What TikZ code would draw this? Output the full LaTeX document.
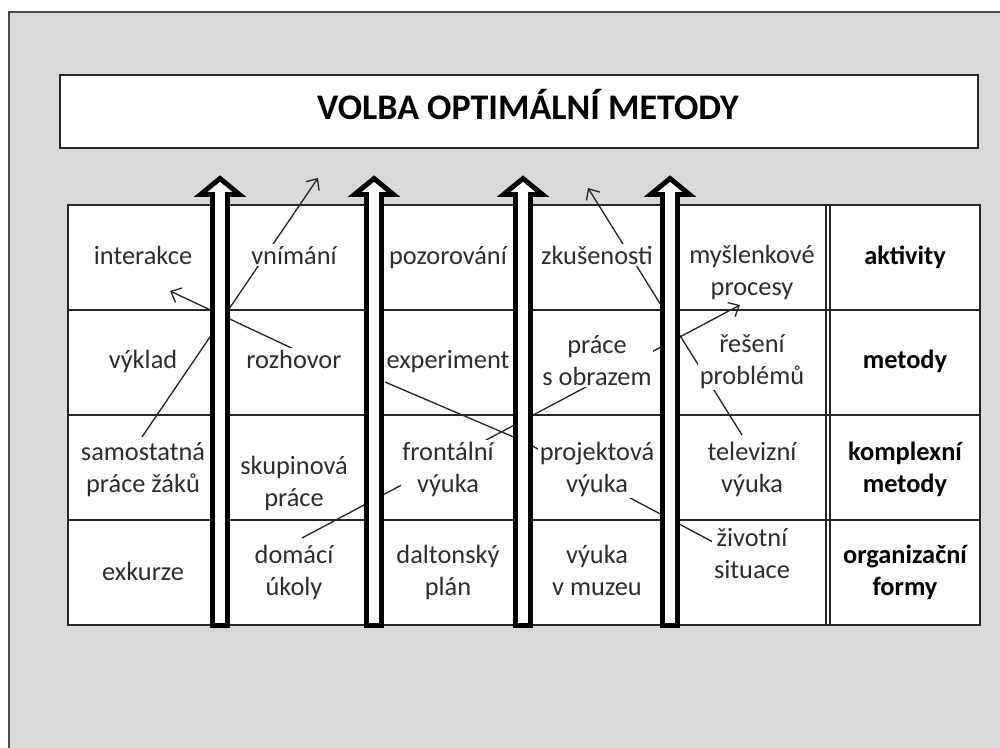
\documentclass[tikz,border=0pt]{standalone}
\usepackage{fontspec}
\setmainfont{Carlito}
\usetikzlibrary{arrows.meta}
\definecolor{bggray}{RGB}{217,217,217}
\definecolor{txtgray}{RGB}{45,45,45}
\tikzset{
  cell/.style={fill=white, inner sep=1pt, align=center, text=txtgray, anchor=base,
    font=\fontsize{15}{18}\selectfont},
  headcell/.style={cell, text=black, font=\fontsize{15}{18}\selectfont\bfseries},
  gridline/.style={draw=black!85, line width=0.75pt},
  conn/.style={draw=black!85, line width=0.75pt},
  connarrow/.style={conn, -{Straight Barb[length=5pt,width=9pt]}},
  bigarrow/.style={draw=black, fill=white, line width=2.8pt, line join=miter},
}
\begin{document}
\begin{tikzpicture}[x=0.02cm,y=-0.02cm]
\useasboundingbox (0,0) rectangle (1000,747);
\clip (0,0) rectangle (1000,747);
\fill[white] (0,0) rectangle (1000,747);
% outer frame
\draw[draw=black!70, fill=bggray, line width=0.8pt] (9,12) rectangle (1030,780);
% title
\draw[draw=black!85, fill=white, line width=0.75pt] (60,75) rectangle (978,148);
\node[font=\fontsize{20.5}{24}\selectfont\bfseries, text=black] (title) at (528,104) {VOLBA OPTIMÁLNÍ METODY};
% table background
\fill[white] (68,205) rectangle (980,625);
% connector end points
\coordinate (a1) at (300,352); \coordinate (a2) at (170,291);
\coordinate (b1) at (142,437); \coordinate (b2) at (318,178);
\coordinate (c1) at (302,538); \coordinate (c2) at (740,305);
\coordinate (d1) at (742,435); \coordinate (d2) at (588,188);
\coordinate (e1) at (385,382); \coordinate (e2) at (523,441); \coordinate (e3) at (713,542);
% connectors
\draw[connarrow] (a1) -- (a2);
\draw[connarrow] (b1) -- (b2);
\draw[connarrow] (c1) -- (c2);
\draw[connarrow] (d1) -- (d2);
\draw[conn] (e1) -- (e2) -- (e3);
% cell texts (positions are baselines of the last line)
\node[cell] (interakce) at (143,264) {interakce};
\node[cell] (vnimani) at (294,264) {vnímání};
\node[cell] (pozorovani) at (448,264) {pozorování};
\node[cell] (zkusenosti) at (597,264) {zkušenosti};
\node[cell] (myslenkove) at (752,295) {myšlenkové\\procesy};
\node[headcell] (aktivity) at (905,264) {aktivity};
\node[cell] (vyklad) at (143,368) {výklad};
\node[cell] (rozhovor) at (294,368) {rozhovor};
\node[cell] (experiment) at (448,368) {experiment};
\node[cell] (obraz) at (597,385) {práce\\s obrazem};
\node[cell] (reseni) at (752,384) {řešení\\problémů};
\node[headcell] (metody) at (905,368) {metody};
\node[cell] (samostatna) at (143,492) {samostatná\\práce žáků};
\node[cell] (skupinova) at (294,506) {skupinová\\práce};
\node[cell] (frontalni) at (448,492) {frontální\\výuka};
\node[cell] (projektova) at (597,492) {projektová\\výuka};
\node[cell] (televizni) at (752,492) {televizní\\výuka};
\node[headcell] (komplexni) at (905,492) {komplexní\\metody};
\node[cell] (exkurze) at (143,580) {exkurze};
\node[cell] (domaci) at (294,595) {domácí\\úkoly};
\node[cell] (dalton) at (448,595) {daltonský\\plán};
\node[cell] (muzeum) at (597,595) {výuka\\v muzeu};
\node[cell] (zivotni) at (752,578) {životní\\situace};
\node[headcell] (organizacni) at (905,595) {organizační\\formy};
% grid
\draw[gridline] (68,205) rectangle (980,625);
\foreach \yy in {310,415,520} \draw[gridline] (68,\yy) -- (980,\yy);
\foreach \xx in {220,374,523,670,826,830} \draw[gridline] (\xx,205) -- (\xx,625);
% big arrows
\foreach \c in {220,374,523,670}
  \draw[bigarrow] ({\c-7.5},625.5) -- ({\c-7.5},194.5) -- ({\c-19.5},194.5) -- (\c,178.5)
     -- ({\c+19.5},194.5) -- ({\c+7.5},194.5) -- ({\c+7.5},625.5) -- cycle;
\end{tikzpicture}
\end{document}
